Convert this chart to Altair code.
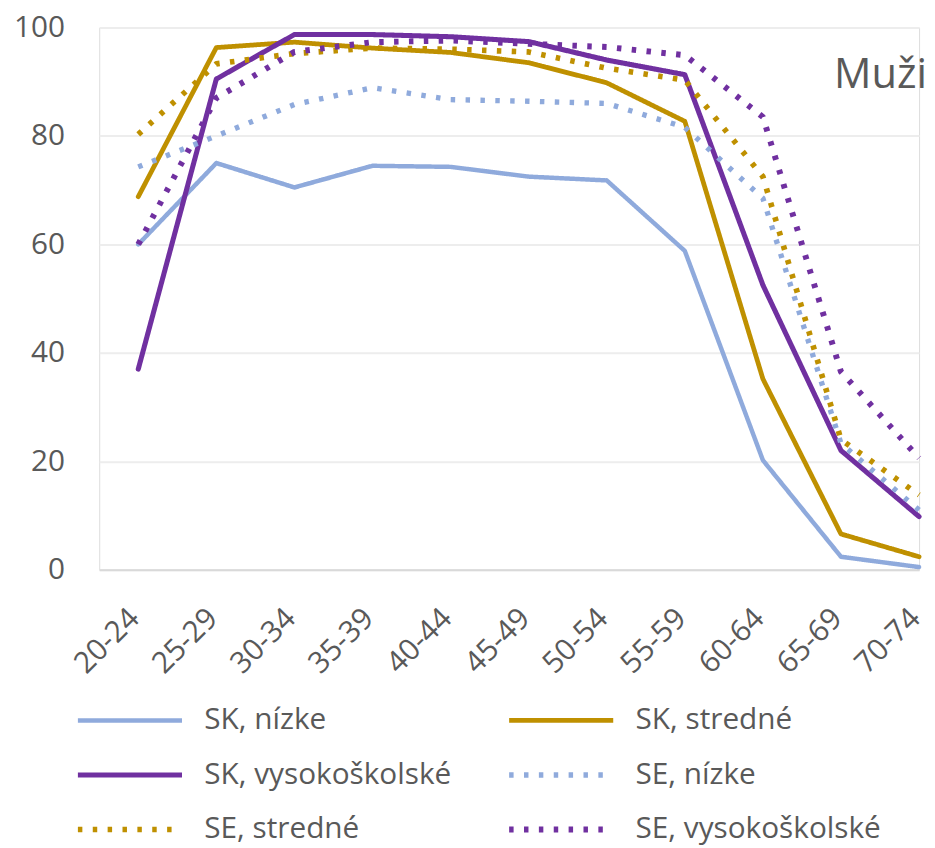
import json
import altair as alt
import pandas as pd

categories = ["20-24", "25-29", "30-34", "35-39", "40-44", "45-49",
              "50-54", "55-59", "60-64", "65-69", "70-74"]
series_names = ["SK, nízke", "SK, stredné", "SK, vysokoškolské",
                "SE,  nízke", "SE, stredné", "SE, vysokoškolské"]
sk_nizke = [60.0, 75.0, 70.5, 74.5, 74.3, 72.5, 71.8, 58.8, 20.2, 2.4, 0.5]
sk_stredne = [68.8, 96.3, 97.3, 96.2, 95.4, 93.5, 89.8, 82.7, 35.2, 6.6, 2.4]
sk_vys = [37.0, 90.5, 98.7, 98.7, 98.3, 97.4, 94.0, 91.3, 52.5, 22.0, 9.8]
se_nizke = [74.3, 80.0, 85.8, 88.9, 86.7, 86.4, 86.0, 81.6, 68.5, 23.3, 11.0]
se_stredne = [80.3, 93.3, 95.2, 96.2, 96.0, 95.5, 92.5, 90.3, 72.5, 24.0, 13.8]
se_vys = [60.0, 87.0, 95.5, 97.3, 97.6, 97.0, 96.4, 94.9, 83.5, 36.5, 20.6]
y_ticks = [0, 20, 40, 60, 80, 100]
panel_label = "Muži"
panel_label_value = 91.3

series_values = [sk_nizke, sk_stredne, sk_vys, se_nizke, se_stredne, se_vys]
colors = ["#8FAADC", "#BF9000", "#7030A0", "#8FAADC", "#BF9000", "#7030A0"]
widths = [4.5, 6, 6.5, 5, 5, 5]
dot = [4.5, 10.5]
dashes = [[1, 0], [1, 0], [1, 0], dot, dot, dot]

rows = []
for name, vals in zip(series_names, series_values):
    for i, v in enumerate(vals):
        rows.append({"idx": i, "age": categories[i], "value": v, "series": name})
df = pd.DataFrame(rows)
df_sk = df[df["series"].str.startswith("SK")]
df_se = df[df["series"].str.startswith("SE")]

FONT = "Open Sans"
GRAY = "#595959"
n = len(categories)

xscale = alt.Scale(domain=[-0.5, n - 1], nice=False, zero=False)
yscale = alt.Scale(domain=[0, 100], nice=False)

x_axis = alt.Axis(title=None, values=list(range(n)),
                  labelExpr=json.dumps(categories) + "[datum.value]",
                  labelAngle=-45, labelAlign="right", labelBaseline="middle",
                  labelFontSize=30, labelColor=GRAY, labelFont=FONT,
                  ticks=False, tickSize=0, labelPadding=44, labelOffset=-4,
                  domainColor="#D9D9D9", domainWidth=2, grid=False)
y_axis = alt.Axis(title=None, values=y_ticks, labelFontSize=30,
                  labelColor=GRAY, labelFont=FONT, ticks=False, tickSize=0,
                  domain=False, labelPadding=35,
                  gridColor="#EDEDED", gridWidth=2)

legend = alt.Legend(title=None, orient="none", legendX=-23, legendY=684,
                    direction="horizontal", columns=2, padding=0,
                    symbolType="M-5,0H5", symbolSize=441, symbolOffset=39,
                    labelFontSize=30, labelFont=FONT, labelColor=GRAY,
                    labelOffset=60, columnPadding=45, rowPadding=25,
                    labelLimit=400)

enc = dict(
    x=alt.X("idx:Q", scale=xscale, axis=x_axis),
    y=alt.Y("value:Q", scale=yscale, axis=y_axis),
    color=alt.Color("series:N", sort=series_names,
                    scale=alt.Scale(domain=series_names, range=colors),
                    legend=legend),
    strokeDash=alt.StrokeDash("series:N", sort=series_names,
                              scale=alt.Scale(domain=series_names, range=dashes),
                              legend=None),
    strokeWidth=alt.StrokeWidth("series:N", sort=series_names,
                                scale=alt.Scale(domain=series_names, range=widths),
                                legend=None),
)

solid = alt.Chart(df_sk).mark_line(strokeCap="round", strokeJoin="round").encode(**enc)
dotted = alt.Chart(df_se).mark_line(strokeCap="butt", strokeJoin="round").encode(**enc)

label_df = pd.DataFrame([{"idx": n - 1, "value": panel_label_value, "text": panel_label}])
label = alt.Chart(label_df).mark_text(align="right", baseline="middle", dx=8,
                                      fontSize=42, font=FONT, color=GRAY).encode(
    x=alt.X("idx:Q", scale=xscale),
    y=alt.Y("value:Q", scale=yscale),
    text="text:N",
)

chart = alt.layer(solid, dotted, label).properties(
    width=827, height=547,
    autosize=alt.AutoSizeParams(type="none"),
    padding={"left": 92, "top": 16, "right": 8, "bottom": 282},
).configure_view(stroke=None).configure(font=FONT)

chart.save("out.html", embed_options={"renderer": "svg", "actions": False})
